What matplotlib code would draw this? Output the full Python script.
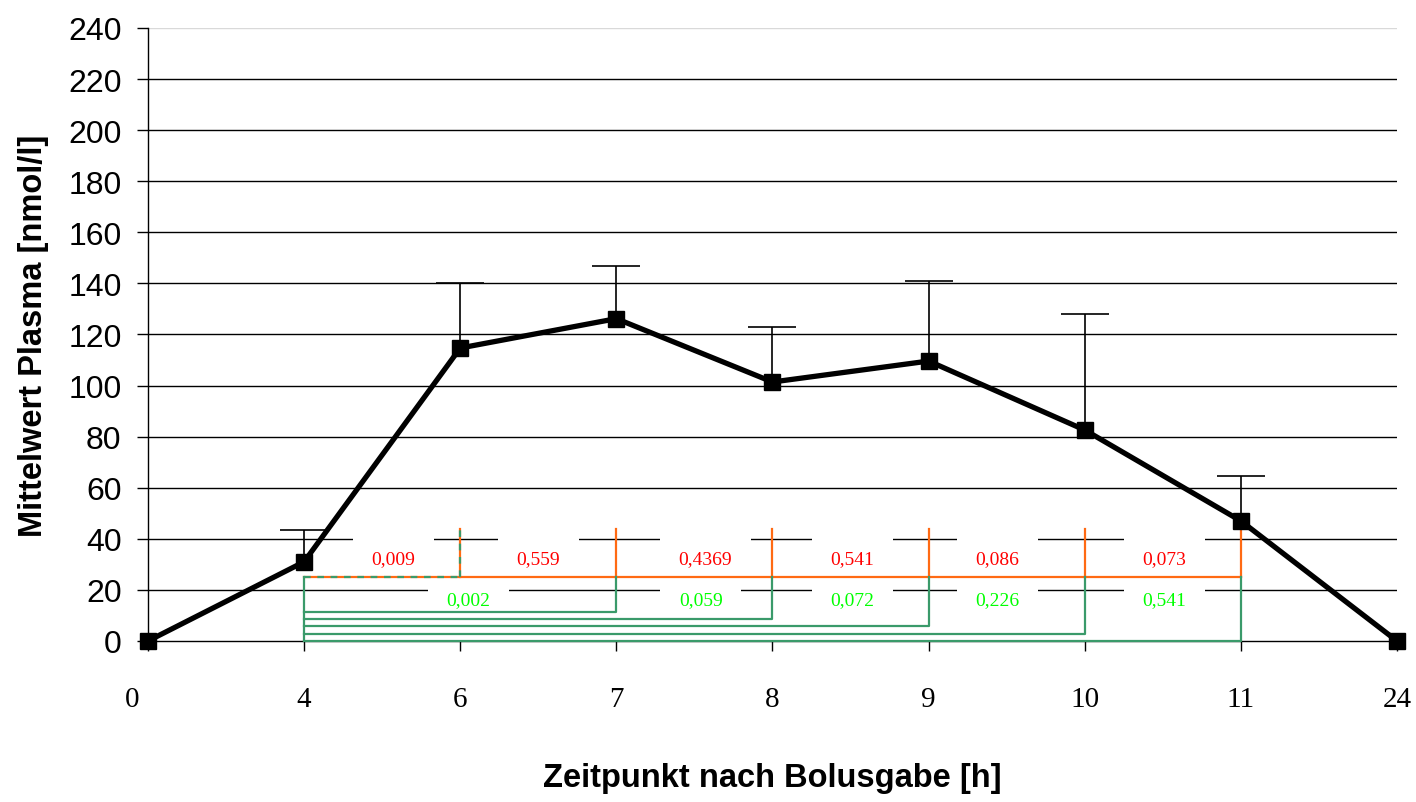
import numpy as np
import matplotlib.pyplot as plt
import matplotlib.transforms as mtransforms

# Zeitpunkte (Kategorien) und Mittelwerte
zeitpunkte = ['0', '4', '6', '7', '8', '9', '10', '11', '24']
mittelwerte = [0, 31, 114.7, 126.2, 101.4, 109.6, 82.6, 47, 0]
sd_oben = [0, 12.5, 25.5, 20.8, 21.6, 31.4, 45.4, 17.6, 0]

# p-Werte: rot = benachbarte Zeitpunkte, gruen = Vergleich mit 4 h
p_rot = ['0,009', '0,559', '0,4369', '0,541', '0,086', '0,073']
p_rot_x = [1.57, 2.5, 3.57, 4.51, 5.44, 6.51]
p_gruen = ['0,002', '0,059', '0,072', '0,226', '0,541']
p_gruen_x = [2.05, 3.54, 4.51, 5.44, 6.51]
gruen_ebenen = [11.4, 8.6, 5.9, 2.7, 0]
klammer_hoehe = 25
klammer_oben = 43.8

ORANGE = '#FF6A13'
GRUEN = '#3A9A6A'

fig = plt.figure(figsize=(14.16, 8.03), dpi=100)
ax = fig.add_axes([0.1045, 0.2005, 0.8821, 0.7634])

x = np.arange(len(zeitpunkte))

# Gitternetz
for y in range(20, 241, 20):
    ax.axhline(y, color='#d9d9d9' if y == 240 else 'black', lw=1, zorder=1)

# Klammern (orange)
ax.plot([1, 7], [klammer_hoehe, klammer_hoehe], color=ORANGE, lw=1.6, zorder=4)
for i in range(2, 8):
    ax.plot([i, i], [klammer_hoehe, klammer_oben], color=ORANGE, lw=1.6, zorder=4)

# Klammern (gruen)
ax.plot([1, 1], [0, klammer_hoehe], color=GRUEN, lw=1.6, zorder=4)
ax.plot([1, 2], [klammer_hoehe, klammer_hoehe], color=GRUEN, lw=1.6,
        ls=(0, (3, 3)), zorder=5)
ax.plot([2, 2], [klammer_hoehe, klammer_oben], color=GRUEN, lw=1.6,
        ls=(0, (3, 3)), zorder=5)
for j, ebene in zip(range(3, 8), gruen_ebenen):
    ax.plot([1, j, j], [ebene, ebene, klammer_hoehe], color=GRUEN, lw=1.6,
            zorder=4, clip_on=False)

# p-Werte
box = dict(boxstyle='square,pad=0.95', fc='white', ec='none')
for xp, t in zip(p_rot_x, p_rot):
    ax.text(xp, 32.3, t, color='#FF0000', fontsize=14, family='Liberation Serif',
            ha='center', va='center', bbox=box, zorder=2)
for xp, t in zip(p_gruen_x, p_gruen):
    ax.text(xp, 16.4, t, color='#00FF00', fontsize=14, family='Liberation Serif',
            ha='center', va='center', bbox=box, zorder=2)

# Fehlerbalken (nur nach oben)
innen = slice(1, 8)
_, caps, _ = ax.errorbar(x[innen], mittelwerte[innen],
                         yerr=[np.zeros(7), sd_oben[innen]],
                         fmt='none', ecolor='black', elinewidth=1.2, capsize=17,
                         capthick=1.2, zorder=6)
caps[0].set_visible(False)

# Mittelwertkurve
ax.plot(x, mittelwerte, color='black', lw=3.8, marker='s', markersize=11.5,
        zorder=7, clip_on=False)

ax.set_xlim(0, 8)
ax.set_ylim(0, 240)
ax.set_yticks(range(0, 241, 20))
ax.set_xticks(x)
ax.set_xticklabels(zeitpunkte, family='Liberation Serif', fontsize=21)
for lbl in ax.get_yticklabels():
    lbl.set_family('Liberation Sans')
    lbl.set_fontsize(23)

ax.tick_params(axis='y', direction='out', length=8, width=1, pad=11)
ax.tick_params(axis='x', direction='out', length=7.5, width=1, pad=25)

# "0" etwas nach links versetzt wie im Original
off = mtransforms.ScaledTranslation(-16 / 100, 0, fig.dpi_scale_trans)
ax.get_xticklabels()[0].set_transform(ax.get_xticklabels()[0].get_transform() + off)

for s in ['top', 'right']:
    ax.spines[s].set_visible(False)
ax.spines['left'].set_linewidth(1)
ax.spines['bottom'].set_linewidth(1)

ax.set_ylabel('Mittelwert Plasma [nmol/l]', family='Liberation Sans',
              fontweight='bold', fontsize=23.5, labelpad=14)
ax.set_xlabel('Zeitpunkt nach Bolusgabe [h]', family='Liberation Sans',
              fontweight='bold', fontsize=23.5, labelpad=36)

plt.savefig('out.png', dpi=100)
